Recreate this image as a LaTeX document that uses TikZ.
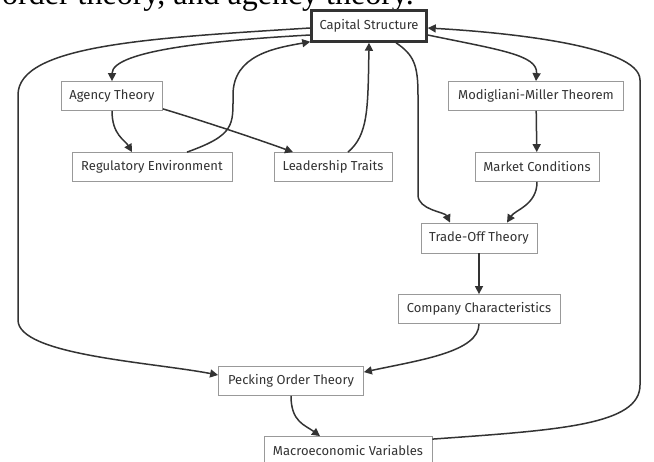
\documentclass[tikz,border=0pt]{standalone}
\usepackage{fontspec}
\setmainfont{Liberation Serif}
\newfontfamily\boxfont{Fira Sans}
\usetikzlibrary{arrows.meta}
\definecolor{ink}{HTML}{333333}
\definecolor{rim}{HTML}{999999}

\begin{document}
\begin{tikzpicture}[x=1pt, y=1pt,
		main/.style = {draw=rim, line width=0.8pt, fill=white, text=ink, font=\boxfont\fontsize{13}{15}\selectfont, minimum height=29pt, inner xsep=0pt},
		flow/.style = {draw=ink, line width=1.5pt, -{Triangle[length=8pt,width=8pt]}}]
			\clip (0,0) rectangle (654,-462);
			\node[anchor=base west, inner sep=0pt, font=\fontsize{32}{36}\selectfont] (cut) at (2,-5) {order theory, and agency theory.};
			\node[main, draw=ink, line width=2.5pt, minimum width=115pt, minimum height=31pt] (cs) at (369,-26) {Capital Structure};
			\node[main, minimum width=101pt] (agency) at (112,-96) {Agency Theory};
			\node[main, minimum width=160pt] (reg) at (152,-167) {Regulatory Environment};
			\node[main, minimum width=118pt] (lead) at (333,-167) {Leadership Traits};
			\node[main, minimum width=175pt] (mm) at (536,-96) {Modigliani-Miller Theorem};
			\node[main, minimum width=124pt] (market) at (537,-167) {Market Conditions};
			\node[main, minimum width=116pt, minimum height=30pt] (trade) at (479,-238) {Trade-Off Theory};
			\node[main, minimum width=162pt] (company) at (479,-309) {Company Characteristics};
			\node[main, minimum width=145pt] (pecking) at (291,-381) {Pecking Order Theory};
			\node[main, minimum width=168pt] (macro) at (348,-451) {Macroeconomic Variables};
			% left half
			\draw[flow] ([yshift=-9pt]cs.west) .. controls (220,-40) and (112,-50) .. (agency.north);
			\draw[flow] (agency.south) .. controls (112,-135) and (125,-140) .. ([xshift=-20pt]reg.north);
			\draw[flow] ([yshift=2pt]agency.south east) .. controls (200,-120) and (260,-140) .. ([xshift=-40pt]lead.north);
			\draw[flow] ([xshift=35pt]reg.north) .. controls (235,-135) and (233,-125) .. (233,-95) .. controls (233,-55) and (275,-48) .. ([yshift=1pt]cs.south west);
			\draw[flow] ([xshift=15pt]lead.north) .. controls (368,-135) and (368,-110) .. (cs.south);
			\draw[flow] ([yshift=-2pt]cs.west) .. controls (150,-38) and (18,-45) .. (18,-95) -- (18,-320) .. controls (18,-355) and (150,-362) .. ([yshift=6pt]pecking.west);
			% right half
			\draw[flow] ([yshift=-9pt]cs.east) .. controls (500,-50) and (538,-55) .. (mm.north);
			\draw[flow] (mm) -- (market);
			\draw[flow] ([xshift=27pt]cs.south) .. controls (414,-55) and (418,-65) .. (418,-95) -- (418,-195) .. controls (418,-210) and (445,-212) .. ([xshift=-29pt]trade.north);
			\draw[flow] (market.south) .. controls (537,-205) and (515,-210) .. ([xshift=28pt]trade.north);
			\draw[flow] (trade) -- (company);
			\draw[flow] (company.south) .. controls (479,-352) and (420,-360) .. ([yshift=-6pt]pecking.north east);
			\draw[flow] (pecking.south) .. controls (291,-422) and (305,-425) .. ([xshift=-28pt]macro.north);
			\draw[flow] ([yshift=-3pt]macro.north east) .. controls (560,-430) and (640,-425) .. (640,-385) -- (640,-80) .. controls (640,-45) and (500,-32) .. ([yshift=-2pt]cs.east);
		\end{tikzpicture}
\end{document}
